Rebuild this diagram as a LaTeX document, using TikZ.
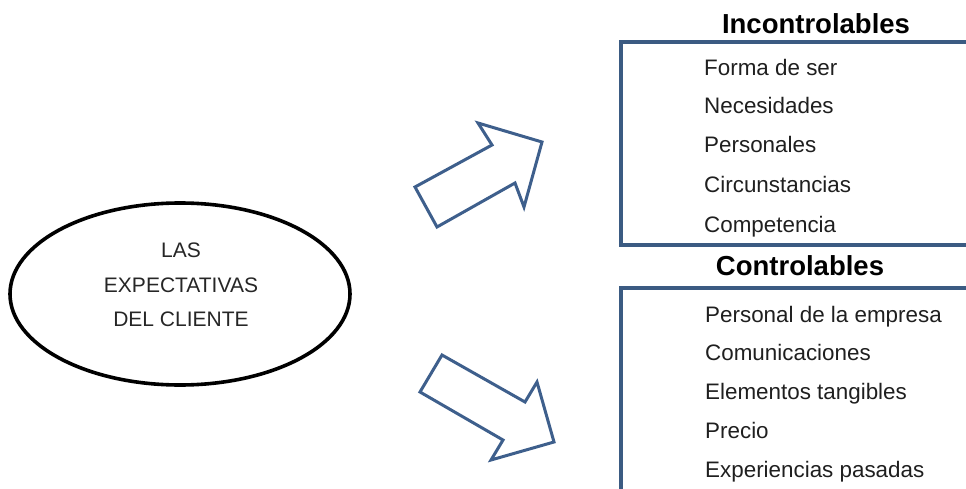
\documentclass[tikz,border=0pt]{standalone}
\usepackage{fontspec}
\setmainfont{Liberation Sans}
\usetikzlibrary{shapes.geometric}
\definecolor{frameblue}{HTML}{3B5B82}
\definecolor{arrowblue}{HTML}{3E5F8C}
\tikzset{
  oval/.style={ellipse, draw=black, line width=3.6pt, minimum width=340pt, minimum height=182pt, inner sep=0pt},
  ovaltext/.style={align=center, font=\fontsize{21pt}{34.5pt}\selectfont, text=black!85},
  heading/.style={anchor=base, font=\bfseries\fontsize{27.5pt}{30pt}\selectfont},
  item/.style={anchor=base west, font=\fontsize{22.4pt}{24pt}\selectfont, text=black!88, inner sep=0pt},
  frame/.style={draw=frameblue, line width=3.4pt},
  blockarrow/.style={draw=arrowblue, line width=3pt, line join=miter, fill=white}
}
\begin{document}
\begin{tikzpicture}[x=1pt, y=-1pt]
\useasboundingbox (0,0) rectangle (966,489);
\clip (0,0) rectangle (966,489);

% central oval
\node[oval] (cliente) at (180,294) {};
\node[ovaltext] (clientetxt) at (181,285) {LAS\\EXPECTATIVAS\\DEL CLIENTE};

% block arrows
\draw[blockarrow] (415,187) -- (492,145) -- (478,123) -- (542,142) -- (524,207) -- (515,183) -- (437,227) -- cycle;
\draw[blockarrow] (442,355) -- (420,392) -- (503,440) -- (491,460) -- (554,442) -- (537,382) -- (525,402) -- cycle;

% uncontrollable factors
\node[heading] (inc) at (816,34) {Incontrolables};
\draw[frame] (621,42) rectangle (1000,245);
\node[item] (i1) at (704,76) {Forma de ser};
\node[item] (i2) at (704,114) {Necesidades};
\node[item] (i3) at (704,153) {Personales};
\node[item] (i4) at (704,193) {Circunstancias};
\node[item] (i5) at (704,233) {Competencia};

% controllable factors
\node[heading] (con) at (800,275) {Controlables};
\draw[frame] (621,288) rectangle (1000,540);
\node[item] (c1) at (705,322) {Personal de la empresa};
\node[item] (c2) at (705,360) {Comunicaciones};
\node[item] (c3) at (705,399) {Elementos tangibles};
\node[item] (c4) at (705,438) {Precio};
\node[item] (c5) at (705,477) {Experiencias pasadas};
\end{tikzpicture}
\end{document}
